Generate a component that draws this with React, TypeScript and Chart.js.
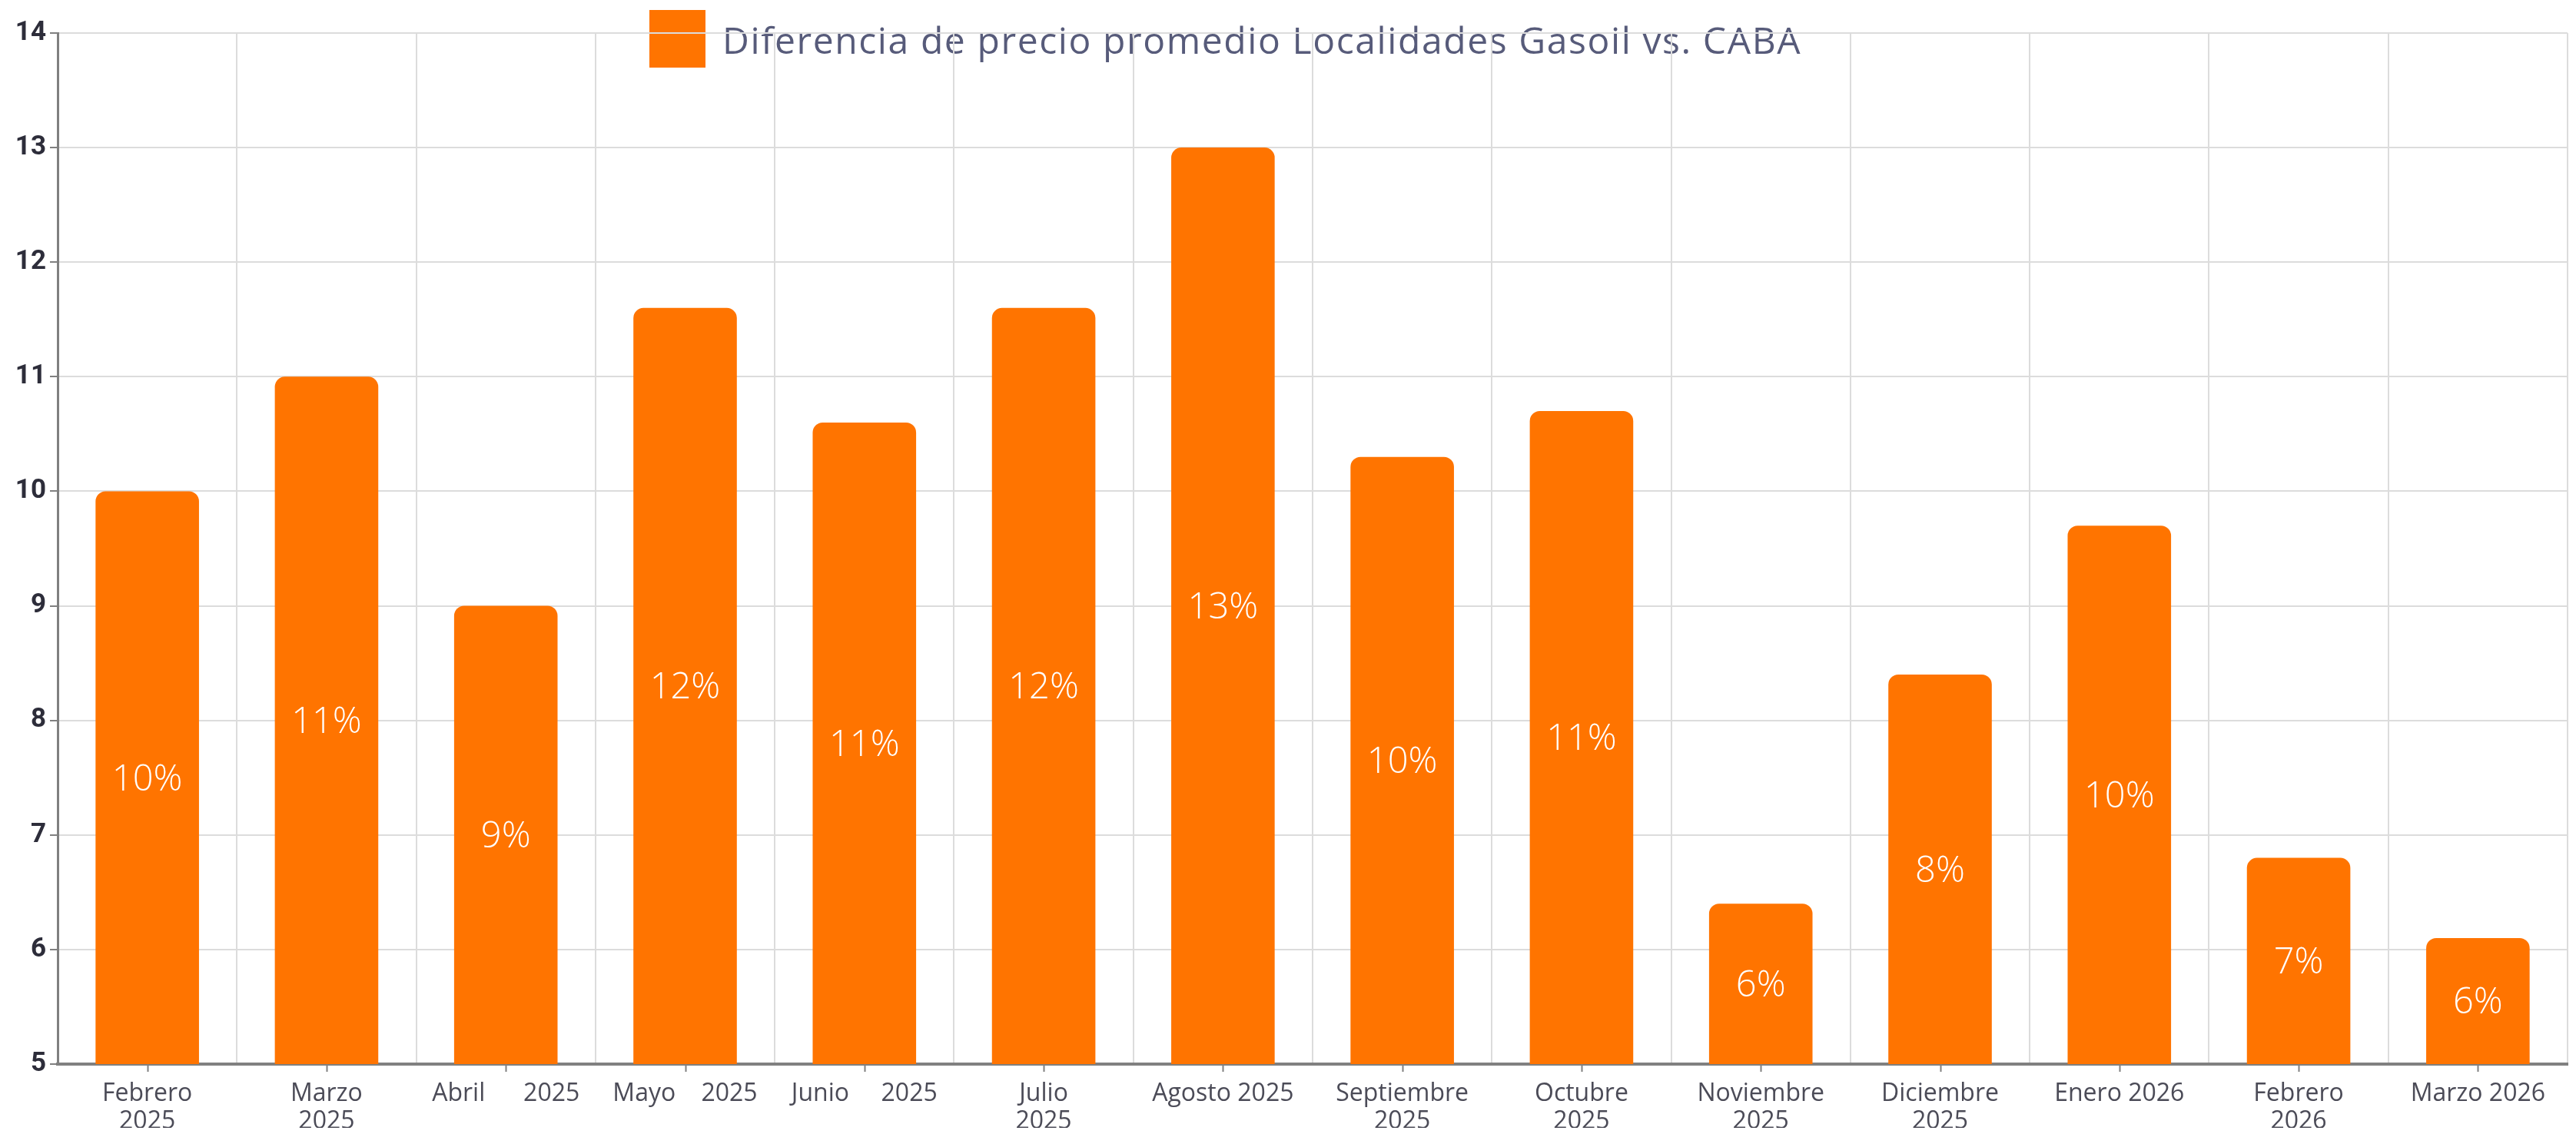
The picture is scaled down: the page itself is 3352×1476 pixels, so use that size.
import React, { useEffect, useRef } from "react";
import { Chart, registerables } from "chart.js";

Chart.register(...registerables);

const categories: (string | string[])[] = [
  ["Febrero", "2025"],
  ["Marzo", "2025"],
  "Abril      2025",
  "Mayo    2025",
  "Junio     2025",
  ["Julio", "2025"],
  "Agosto 2025",
  ["Septiembre", "2025"],
  ["Octubre", "2025"],
  ["Noviembre", "2025"],
  ["Diciembre", "2025"],
  "Enero 2026",
  ["Febrero", "2026"],
  "Marzo 2026",
];

const seriesLabel = "Diferencia de precio promedio Localidades Gasoil vs. CABA";
const seriesValues = [10.0, 11.0, 9.0, 11.6, 10.6, 11.6, 13.0, 10.3, 10.7, 6.4, 8.4, 9.7, 6.8, 6.1];

const yMin = 5;
const yMax = 14;
const yStep = 1;

const BAR_COLOR = "#FF7400";
const GRID_COLOR = "#dcdcdc";
const AXIS_COLOR = "#808080";

export default function App() {
  const ref = useRef<HTMLCanvasElement>(null);

  useEffect(() => {
    if (!ref.current) return;

    const customLegend = {
      id: "customLegend",
      beforeDraw(chart: any) {
        const ctx = chart.ctx;
        const ds = chart.data.datasets[0];
        const boxX = 837;
        const boxY = 5;
        const boxW = 73;
        const boxH = 75;
        ctx.save();
        ctx.fillStyle = ds.backgroundColor;
        ctx.fillRect(boxX, boxY, boxW, boxH);
        ctx.font = "400 48px 'Open Sans', sans-serif";
        try {
          (ctx as any).letterSpacing = "1.6px";
        } catch (e) {}
        ctx.fillStyle = "#575b7a";
        ctx.textAlign = "left";
        ctx.textBaseline = "middle";
        ctx.fillText(ds.label, boxX + boxW + 22, boxY + boxH / 2 + 6);
        ctx.restore();
      },
    };

    const valueLabels = {
      id: "valueLabels",
      afterDatasetsDraw(chart: any) {
        const ctx = chart.ctx;
        const meta = chart.getDatasetMeta(0);
        const data = chart.data.datasets[0].data as number[];
        const bottom = chart.chartArea.bottom;
        ctx.save();
        ctx.font = "300 47px 'Open Sans', sans-serif";
        ctx.fillStyle = "#ffffff";
        ctx.textAlign = "center";
        ctx.textBaseline = "middle";
        meta.data.forEach((el: any, i: number) => {
          const { x, y, base } = el.getProps(["x", "y", "base"], true);
          const b = Math.min(base, bottom);
          ctx.fillText(Math.round(data[i]) + "%", x, (y + b) / 2 + 3);
        });
        ctx.restore();
      },
    };

    const xTickMarks = {
      id: "xTickMarks",
      afterDraw(chart: any) {
        const ctx = chart.ctx;
        const xs = chart.scales.x;
        const yb = chart.chartArea.bottom;
        ctx.save();
        ctx.strokeStyle = AXIS_COLOR;
        ctx.lineWidth = 2;
        ctx.beginPath();
        xs.ticks.forEach((_t: any, i: number) => {
          const px = Math.round(xs.getPixelForTick(i)) + 0.5;
          ctx.moveTo(px, yb);
          ctx.lineTo(px, yb + 10);
        });
        ctx.stroke();
        ctx.restore();
      },
    };

    const chart = new Chart(ref.current, {
      type: "bar",
      data: {
        labels: categories,
        datasets: [
          {
            label: seriesLabel,
            data: seriesValues,
            backgroundColor: BAR_COLOR,
            borderWidth: 0,
            borderRadius: { topLeft: 13, topRight: 13, bottomLeft: 0, bottomRight: 0 },
            borderSkipped: "bottom",
            categoryPercentage: 1,
            barPercentage: 0.577,
          },
        ],
      },
      options: {
        animation: false,
        responsive: true,
        maintainAspectRatio: false,
        layout: { padding: { top: 35, right: 3, bottom: 0, left: 0 } },
        plugins: {
          legend: { display: false },
          tooltip: { enabled: false },
          title: { display: false },
        },
        scales: {
          x: {
            offset: true,
            grid: {
              display: true,
              offset: true,
              color: GRID_COLOR,
              lineWidth: 2,
              drawTicks: false,
            },
            border: { display: true, color: AXIS_COLOR, width: 4 },
            ticks: {
              padding: 21,
              color: "#4b4b57",
              maxRotation: 0,
              minRotation: 0,
              autoSkip: false,
              font: { family: "'Open Sans', sans-serif", size: 32, lineHeight: 1.12 },
            },
            afterFit(scale: any) {
              scale.height = 83;
            },
          },
          y: {
            min: yMin,
            max: yMax,
            grid: {
              color: GRID_COLOR,
              lineWidth: 2,
              drawTicks: true,
              tickLength: 10,
              tickColor: AXIS_COLOR,
            },
            border: { display: true, color: AXIS_COLOR, width: 3 },
            ticks: {
              stepSize: yStep,
              padding: 5,
              color: "#2d2d3a",
              font: { family: "'Liberation Sans Narrow', 'Roboto', sans-serif", size: 35, weight: "bold" },
            },
            afterFit(scale: any) {
              scale.width = 67;
            },
          },
        },
      },
      plugins: [customLegend, valueLabels, xTickMarks],
    } as any);

    return () => chart.destroy();
  }, []);

  return (
    <div style={{ position: "relative", width: 3336, height: 1460 }}>
      <canvas ref={ref} />
    </div>
  );
}
